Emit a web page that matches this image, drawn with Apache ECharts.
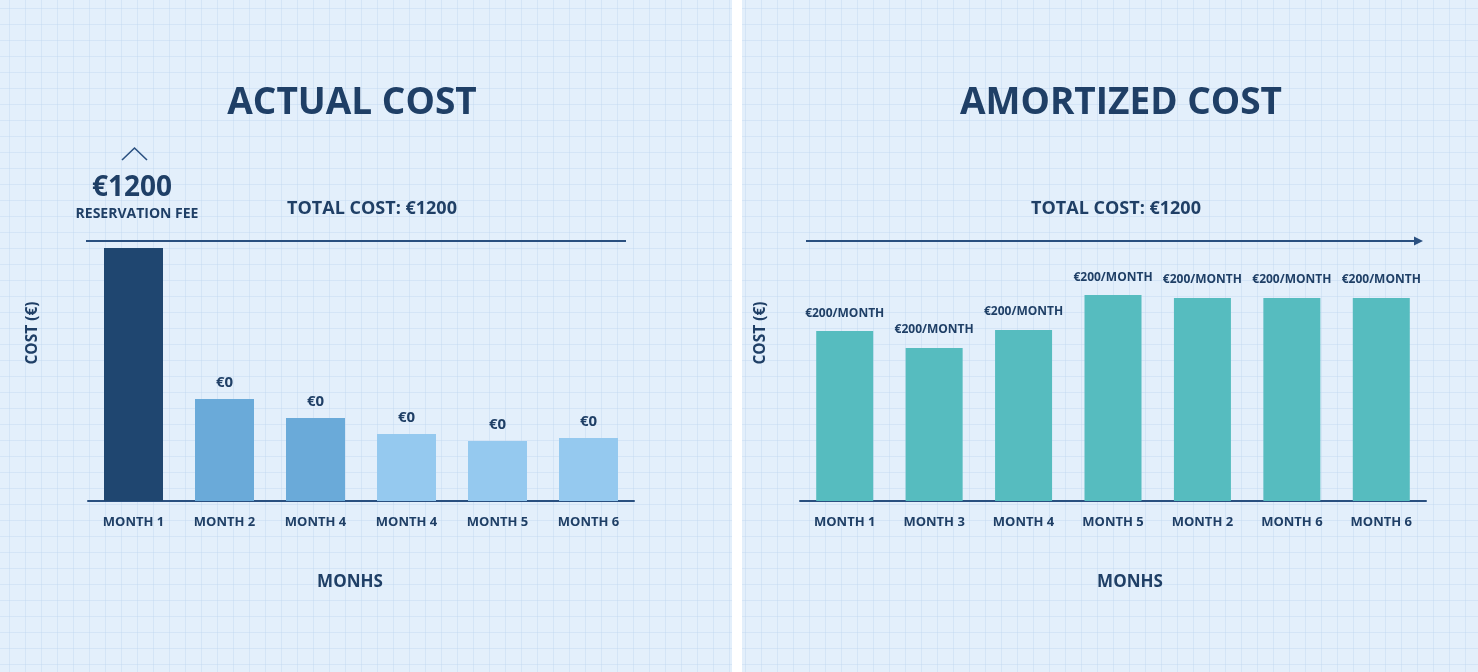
<!DOCTYPE html>
<html>
<head>
<meta charset="utf-8">
<script src="https://cdn.jsdelivr.net/npm/echarts@6/dist/echarts.min.js"></script>
<style>
  html, body { margin: 0; padding: 0; }
  #main {
    width: 1478px; height: 672px;
    background-color: #e3effb;
    background-image:
      linear-gradient(to right, rgba(190,214,238,0.4) 1px, transparent 1px),
      linear-gradient(to bottom, rgba(190,214,238,0.4) 1px, transparent 1px);
    background-size: 16px 16px;
    background-position: 9px 8px;
  }
</style>
</head>
<body>
<div id="main"></div>
<script>
// 数据
var actualMonths = ['MONTH 1', 'MONTH 2', 'MONTH 4', 'MONTH 4', 'MONTH 5', 'MONTH 6'];
var actualValues = [1200, 484, 394, 318, 285, 299];
var actualLabels = ['€1200', '€0', '€0', '€0', '€0', '€0'];

var amortMonths = ['MONTH 1', 'MONTH 3', 'MONTH 4', 'MONTH 5', 'MONTH 2', 'MONTH 6', 'MONTH 6'];
var amortValues = [806, 726, 811, 977, 963, 963, 963];
var amortLabels = ['€200/MONTH', '€200/MONTH', '€200/MONTH', '€200/MONTH', '€200/MONTH', '€200/MONTH', '€200/MONTH'];

var navy = '#1f3f66';
var font = '"Open Sans", "Noto Sans", sans-serif';
var actualColors = ['#1f4670', '#6aaad9', '#6aaad9', '#95c9ef', '#95c9ef', '#95c9ef'];

var chart = echarts.init(document.getElementById('main'));

var labelStyle = {fontFamily: font, fontWeight: 'bold', color: navy};

// 小工具：居中文字
function txt(x, y, s, size, rot){
  return {
    type: 'text', x: x, y: y, rotation: rot || 0,
    style: {text: s, font: 'bold ' + size + 'px ' + font, fill: navy, align: 'center', verticalAlign: 'middle'}
  };
}

var option = {
  backgroundColor: 'transparent',
  animation: false,
  grid: [
    {left: 88, width: 546, top: 227, bottom: 171},
    {left: 800, width: 626, top: 227, bottom: 171}
  ],
  xAxis: [
    {
      type: 'category', gridIndex: 0, data: actualMonths,
      axisLine: {lineStyle: {color: '#2a5080', width: 2}},
      axisTick: {show: false},
      axisLabel: Object.assign({fontSize: 13, margin: 15}, labelStyle)
    },
    {
      type: 'category', gridIndex: 1, data: amortMonths,
      axisLine: {lineStyle: {color: '#2a5080', width: 2}},
      axisTick: {show: false},
      axisLabel: Object.assign({fontSize: 13, margin: 15}, labelStyle)
    }
  ],
  yAxis: [
    {
      type: 'value', gridIndex: 0, min: 0, max: 1300,
      axisLine: {show: false}, axisTick: {show: false},
      axisLabel: {show: false}, splitLine: {show: false}
    },
    {
      type: 'value', gridIndex: 1, min: 0, max: 1300,
      axisLine: {show: false}, axisTick: {show: false},
      axisLabel: {show: false}, splitLine: {show: false}
    }
  ],
  series: [
    {
      type: 'bar', xAxisIndex: 0, yAxisIndex: 0, barWidth: 59,
      data: actualValues.map(function(v, i){
        return {
          value: v,
          itemStyle: {color: actualColors[i]},
          label: {show: i > 0, formatter: actualLabels[i]}
        };
      }),
      label: Object.assign({position: 'top', distance: 9, fontSize: 15}, labelStyle)
    },
    {
      type: 'bar', xAxisIndex: 1, yAxisIndex: 1, barWidth: 57,
      itemStyle: {color: '#56bcbf'},
      data: amortValues.map(function(v, i){
        return {value: v, label: {formatter: amortLabels[i]}};
      }),
      label: Object.assign({show: true, position: 'top', distance: 12, fontSize: 12}, labelStyle)
    }
  ],
  graphic: [
    // 中间分隔
    {type: 'rect', shape: {x: 732, y: 0, width: 10, height: 672}, style: {fill: '#ffffff'}, z: 0},
    // 标题
    txt(352, 103, 'ACTUAL COST', 37),
    txt(1121, 103, 'AMORTIZED COST', 37),
    // 总成本
    txt(372, 209, 'TOTAL COST: €1200', 18),
    txt(1116, 209, 'TOTAL COST: €1200', 18),
    {type: 'line', shape: {x1: 86, y1: 241, x2: 626, y2: 241}, style: {stroke: '#2a5080', lineWidth: 2}},
    {type: 'line', shape: {x1: 806, y1: 241, x2: 1416, y2: 241}, style: {stroke: '#2a5080', lineWidth: 2}},
    {type: 'polygon', shape: {points: [[1414, 236.5], [1423, 241], [1414, 245.5]]}, style: {fill: '#2a5080'}},
    // 预订费标注
    {type: 'polyline', shape: {points: [[122, 160], [134.5, 148], [147, 160]]}, style: {stroke: '#2a5080', lineWidth: 1.6, fill: null}},
    txt(132, 188, '€1200', 28),
    txt(137, 214, 'RESERVATION FEE', 14),
    // 纵轴名
    txt(33, 333, 'COST (€)', 15.5, Math.PI / 2),
    txt(761, 333, 'COST (€)', 15.5, Math.PI / 2),
    // 横轴名
    txt(350, 582, 'MONHS', 17),
    txt(1130, 582, 'MONHS', 17)
  ]
};

chart.setOption(option);
</script>
</body>
</html>
